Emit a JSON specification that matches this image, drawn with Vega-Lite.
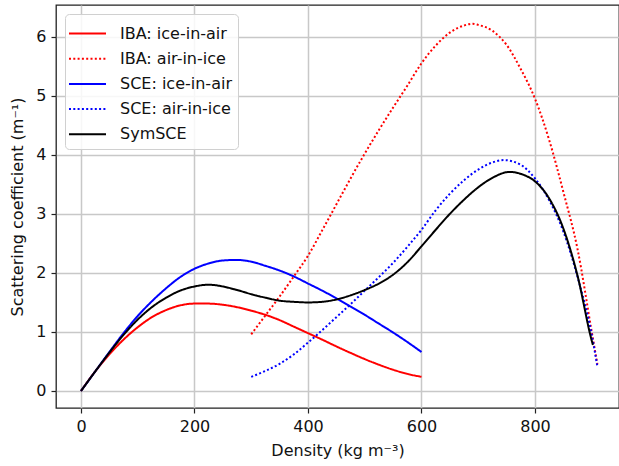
{
  "$schema": "https://vega.github.io/schema/vega-lite/v6.json",
  "width": 563,
  "height": 403,
  "autosize": {"type": "none"},
  "padding": {"left": 56, "top": 5, "right": 0, "bottom": 58},
  "background": "white",
  "config": {
    "font": "DejaVu Sans",
    "view": {"stroke": "#222", "strokeWidth": 1.3},
    "axis": {
      "labelFont": "DejaVu Sans", "labelFontSize": 16, "labelColor": "#111",
      "titleFont": "DejaVu Sans", "titleFontSize": 16, "titleFontWeight": "normal", "titleColor": "#111",
      "domain": false, "tickColor": "#222", "tickSize": 5, "tickWidth": 1.2,
      "grid": true, "gridColor": "#c8c8c8", "gridWidth": 1.5
    },
    "legend": {
      "labelFont": "DejaVu Sans", "labelFontSize": 16, "labelColor": "#111",
      "symbolType": "M-1.48,0H1.48", "symbolSize": 625, "symbolStrokeWidth": 2,
      "symbolOffset": 3, "labelOffset": 19, "rowPadding": 3.2, "padding": 6,
      "fillColor": "rgba(255,255,255,0.85)", "strokeColor": "#d0d0d0", "cornerRadius": 4
    }
  },
  "data": {
    "values": [
      {"s": "IBA: ice-in-air", "x": 0, "y": 0},
      {"s": "IBA: ice-in-air", "x": 25, "y": 0.33},
      {"s": "IBA: ice-in-air", "x": 50, "y": 0.62},
      {"s": "IBA: ice-in-air", "x": 75, "y": 0.87},
      {"s": "IBA: ice-in-air", "x": 100, "y": 1.08},
      {"s": "IBA: ice-in-air", "x": 125, "y": 1.25},
      {"s": "IBA: ice-in-air", "x": 150, "y": 1.37},
      {"s": "IBA: ice-in-air", "x": 175, "y": 1.45},
      {"s": "IBA: ice-in-air", "x": 200, "y": 1.48},
      {"s": "IBA: ice-in-air", "x": 225, "y": 1.48},
      {"s": "IBA: ice-in-air", "x": 250, "y": 1.46},
      {"s": "IBA: ice-in-air", "x": 275, "y": 1.42},
      {"s": "IBA: ice-in-air", "x": 300, "y": 1.36},
      {"s": "IBA: ice-in-air", "x": 325, "y": 1.29},
      {"s": "IBA: ice-in-air", "x": 350, "y": 1.2},
      {"s": "IBA: ice-in-air", "x": 375, "y": 1.09},
      {"s": "IBA: ice-in-air", "x": 400, "y": 0.98},
      {"s": "IBA: ice-in-air", "x": 425, "y": 0.87},
      {"s": "IBA: ice-in-air", "x": 450, "y": 0.755},
      {"s": "IBA: ice-in-air", "x": 475, "y": 0.645},
      {"s": "IBA: ice-in-air", "x": 500, "y": 0.54},
      {"s": "IBA: ice-in-air", "x": 525, "y": 0.445},
      {"s": "IBA: ice-in-air", "x": 550, "y": 0.36},
      {"s": "IBA: ice-in-air", "x": 575, "y": 0.29},
      {"s": "IBA: ice-in-air", "x": 600, "y": 0.24},
      {"s": "IBA: air-in-ice", "x": 300, "y": 0.96},
      {"s": "IBA: air-in-ice", "x": 325, "y": 1.28},
      {"s": "IBA: air-in-ice", "x": 350, "y": 1.6},
      {"s": "IBA: air-in-ice", "x": 375, "y": 1.94},
      {"s": "IBA: air-in-ice", "x": 400, "y": 2.29},
      {"s": "IBA: air-in-ice", "x": 425, "y": 2.72},
      {"s": "IBA: air-in-ice", "x": 450, "y": 3.16},
      {"s": "IBA: air-in-ice", "x": 475, "y": 3.6},
      {"s": "IBA: air-in-ice", "x": 500, "y": 4.02},
      {"s": "IBA: air-in-ice", "x": 525, "y": 4.42},
      {"s": "IBA: air-in-ice", "x": 550, "y": 4.8},
      {"s": "IBA: air-in-ice", "x": 575, "y": 5.17},
      {"s": "IBA: air-in-ice", "x": 600, "y": 5.55},
      {"s": "IBA: air-in-ice", "x": 625, "y": 5.85},
      {"s": "IBA: air-in-ice", "x": 650, "y": 6.07},
      {"s": "IBA: air-in-ice", "x": 675, "y": 6.19},
      {"s": "IBA: air-in-ice", "x": 690, "y": 6.22},
      {"s": "IBA: air-in-ice", "x": 700, "y": 6.2},
      {"s": "IBA: air-in-ice", "x": 725, "y": 6.1},
      {"s": "IBA: air-in-ice", "x": 750, "y": 5.86},
      {"s": "IBA: air-in-ice", "x": 775, "y": 5.45},
      {"s": "IBA: air-in-ice", "x": 800, "y": 4.95},
      {"s": "IBA: air-in-ice", "x": 825, "y": 4.25},
      {"s": "IBA: air-in-ice", "x": 850, "y": 3.37},
      {"s": "IBA: air-in-ice", "x": 875, "y": 2.4},
      {"s": "IBA: air-in-ice", "x": 900, "y": 1.0},
      {"s": "IBA: air-in-ice", "x": 910, "y": 0.45},
      {"s": "SCE: ice-in-air", "x": 0, "y": 0},
      {"s": "SCE: ice-in-air", "x": 25, "y": 0.33},
      {"s": "SCE: ice-in-air", "x": 50, "y": 0.66},
      {"s": "SCE: ice-in-air", "x": 75, "y": 0.98},
      {"s": "SCE: ice-in-air", "x": 100, "y": 1.27},
      {"s": "SCE: ice-in-air", "x": 125, "y": 1.52},
      {"s": "SCE: ice-in-air", "x": 150, "y": 1.74},
      {"s": "SCE: ice-in-air", "x": 175, "y": 1.93},
      {"s": "SCE: ice-in-air", "x": 200, "y": 2.07},
      {"s": "SCE: ice-in-air", "x": 225, "y": 2.16},
      {"s": "SCE: ice-in-air", "x": 250, "y": 2.21},
      {"s": "SCE: ice-in-air", "x": 275, "y": 2.22},
      {"s": "SCE: ice-in-air", "x": 300, "y": 2.19},
      {"s": "SCE: ice-in-air", "x": 325, "y": 2.12},
      {"s": "SCE: ice-in-air", "x": 350, "y": 2.04},
      {"s": "SCE: ice-in-air", "x": 375, "y": 1.94},
      {"s": "SCE: ice-in-air", "x": 400, "y": 1.82},
      {"s": "SCE: ice-in-air", "x": 425, "y": 1.7},
      {"s": "SCE: ice-in-air", "x": 450, "y": 1.57},
      {"s": "SCE: ice-in-air", "x": 475, "y": 1.43},
      {"s": "SCE: ice-in-air", "x": 500, "y": 1.29},
      {"s": "SCE: ice-in-air", "x": 525, "y": 1.14},
      {"s": "SCE: ice-in-air", "x": 550, "y": 0.99},
      {"s": "SCE: ice-in-air", "x": 575, "y": 0.83},
      {"s": "SCE: ice-in-air", "x": 600, "y": 0.66},
      {"s": "SCE: air-in-ice", "x": 300, "y": 0.24},
      {"s": "SCE: air-in-ice", "x": 325, "y": 0.34},
      {"s": "SCE: air-in-ice", "x": 350, "y": 0.46},
      {"s": "SCE: air-in-ice", "x": 375, "y": 0.62},
      {"s": "SCE: air-in-ice", "x": 400, "y": 0.82},
      {"s": "SCE: air-in-ice", "x": 425, "y": 1.03},
      {"s": "SCE: air-in-ice", "x": 450, "y": 1.25},
      {"s": "SCE: air-in-ice", "x": 475, "y": 1.47},
      {"s": "SCE: air-in-ice", "x": 500, "y": 1.7},
      {"s": "SCE: air-in-ice", "x": 525, "y": 1.93},
      {"s": "SCE: air-in-ice", "x": 550, "y": 2.17},
      {"s": "SCE: air-in-ice", "x": 575, "y": 2.44},
      {"s": "SCE: air-in-ice", "x": 600, "y": 2.73},
      {"s": "SCE: air-in-ice", "x": 625, "y": 3.06},
      {"s": "SCE: air-in-ice", "x": 650, "y": 3.34},
      {"s": "SCE: air-in-ice", "x": 675, "y": 3.57},
      {"s": "SCE: air-in-ice", "x": 700, "y": 3.75},
      {"s": "SCE: air-in-ice", "x": 725, "y": 3.87},
      {"s": "SCE: air-in-ice", "x": 745, "y": 3.91},
      {"s": "SCE: air-in-ice", "x": 775, "y": 3.83},
      {"s": "SCE: air-in-ice", "x": 800, "y": 3.6},
      {"s": "SCE: air-in-ice", "x": 825, "y": 3.23},
      {"s": "SCE: air-in-ice", "x": 850, "y": 2.7},
      {"s": "SCE: air-in-ice", "x": 875, "y": 1.93},
      {"s": "SCE: air-in-ice", "x": 900, "y": 0.95},
      {"s": "SCE: air-in-ice", "x": 910, "y": 0.41},
      {"s": "SymSCE", "x": 0, "y": 0},
      {"s": "SymSCE", "x": 25, "y": 0.33},
      {"s": "SymSCE", "x": 50, "y": 0.65},
      {"s": "SymSCE", "x": 75, "y": 0.95},
      {"s": "SymSCE", "x": 100, "y": 1.21},
      {"s": "SymSCE", "x": 125, "y": 1.42},
      {"s": "SymSCE", "x": 150, "y": 1.58},
      {"s": "SymSCE", "x": 175, "y": 1.7},
      {"s": "SymSCE", "x": 200, "y": 1.77},
      {"s": "SymSCE", "x": 225, "y": 1.8},
      {"s": "SymSCE", "x": 250, "y": 1.77},
      {"s": "SymSCE", "x": 275, "y": 1.71},
      {"s": "SymSCE", "x": 300, "y": 1.64},
      {"s": "SymSCE", "x": 325, "y": 1.58},
      {"s": "SymSCE", "x": 350, "y": 1.53},
      {"s": "SymSCE", "x": 375, "y": 1.51},
      {"s": "SymSCE", "x": 400, "y": 1.5},
      {"s": "SymSCE", "x": 425, "y": 1.51},
      {"s": "SymSCE", "x": 450, "y": 1.55},
      {"s": "SymSCE", "x": 475, "y": 1.62},
      {"s": "SymSCE", "x": 500, "y": 1.71},
      {"s": "SymSCE", "x": 525, "y": 1.82},
      {"s": "SymSCE", "x": 550, "y": 1.97},
      {"s": "SymSCE", "x": 575, "y": 2.18},
      {"s": "SymSCE", "x": 600, "y": 2.45},
      {"s": "SymSCE", "x": 625, "y": 2.73},
      {"s": "SymSCE", "x": 650, "y": 3.0},
      {"s": "SymSCE", "x": 675, "y": 3.24},
      {"s": "SymSCE", "x": 700, "y": 3.45},
      {"s": "SymSCE", "x": 725, "y": 3.61},
      {"s": "SymSCE", "x": 755, "y": 3.71},
      {"s": "SymSCE", "x": 780, "y": 3.66},
      {"s": "SymSCE", "x": 800, "y": 3.55},
      {"s": "SymSCE", "x": 825, "y": 3.26},
      {"s": "SymSCE", "x": 850, "y": 2.75},
      {"s": "SymSCE", "x": 875, "y": 1.95},
      {"s": "SymSCE", "x": 900, "y": 0.85},
      {"s": "SymSCE", "x": 902, "y": 0.78}
    ]
  },
  "mark": {"type": "line", "strokeWidth": 2, "interpolate": "monotone", "strokeCap": "butt"},
  "encoding": {
    "x": {
      "field": "x", "type": "quantitative",
      "scale": {"domain": [-44, 948], "nice": false, "zero": false},
      "axis": {"values": [0, 200, 400, 600, 800], "title": "Density (kg m⁻³)", "titlePadding": 8, "labelPadding": 5}
    },
    "y": {
      "field": "y", "type": "quantitative",
      "scale": {"domain": [-0.288, 6.537], "nice": false, "zero": false},
      "axis": {"values": [0, 1, 2, 3, 4, 5, 6], "title": "Scattering coefficient (m⁻¹)", "titlePadding": 10, "labelPadding": 5}
    },
    "color": {
      "field": "s", "type": "nominal",
      "scale": {
        "domain": ["IBA: ice-in-air", "IBA: air-in-ice", "SCE: ice-in-air", "SCE: air-in-ice", "SymSCE"],
        "range": ["#ff0000", "#ff0000", "#0000ff", "#0000ff", "#000000"]
      },
      "legend": {"title": null, "orient": "none", "legendX": 9, "legendY": 9}
    },
    "strokeDash": {
      "field": "s", "type": "nominal",
      "scale": {
        "domain": ["IBA: ice-in-air", "IBA: air-in-ice", "SCE: ice-in-air", "SCE: air-in-ice", "SymSCE"],
        "range": [[1, 0], [2, 2.3], [1, 0], [2, 2.3], [1, 0]]
      },
      "legend": {"title": null, "orient": "none", "legendX": 9, "legendY": 9}
    }
  }
}
